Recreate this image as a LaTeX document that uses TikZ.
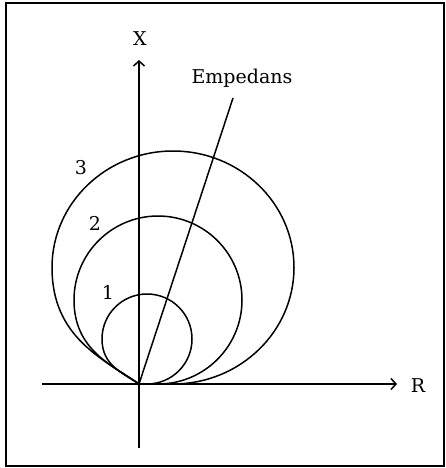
\documentclass[tikz,border=0pt]{standalone}
\usepackage{fontspec}
\setmainfont{DejaVu Serif}
\usetikzlibrary{arrows.meta}
\begin{document}
\begin{tikzpicture}[x=1pt,y=-1pt,
  axis/.style={line width=1.5pt,-{Straight Barb[length=5pt,width=11pt,line width=1.5pt]}},
  curve/.style={line width=1.5pt},
  lbl/.style={inner sep=0pt,font=\fontsize{19}{22}\selectfont}]
\useasboundingbox (0,0) rectangle (445,468);
\draw[line width=1.8pt] (6,3) rectangle (444,466);
% key points
\coordinate (O) at (139,384);
\coordinate (Rs) at (42,384);
\coordinate (Re) at (397,384);
\coordinate (Xs) at (139,448);
\coordinate (Xe) at (139,60);
\coordinate (E) at (233,98);
% axes
\draw[axis] (Rs) -- (Re);
\draw[axis] (Xs) -- (Xe);
\node[lbl] (rlab) at (418,386) {R};
\node[lbl] (xlab) at (140,39) {X};
% impedance line
\draw[curve] (O) -- (E);
\node[lbl] (elab) at (242,78) {Empedans};
% circle 3
\draw[curve] (O) -- (173,384)
  .. controls (239.8,384) and (294,331.8) .. (294,267.5)
  .. controls (294,203.2) and (239.8,151) .. (173,151)
  .. controls (106.2,151) and (52,203.2) .. (52,267.5)
  .. controls (52,337.5) and (103,358.8) .. (O);
% circle 2
\draw[curve] (O) -- (158,384)
  .. controls (204.4,384) and (242,346.4) .. (242,300)
  .. controls (242,253.6) and (204.4,216) .. (158,216)
  .. controls (111.6,216) and (74,253.6) .. (74,300)
  .. controls (74,350) and (112,365.1) .. (O);
% circle 1
\draw[curve] (O) -- (147,384)
  .. controls (171.9,384) and (192,363.9) .. (192,339)
  .. controls (192,314.1) and (171.9,294) .. (147,294)
  .. controls (122.1,294) and (102,314.1) .. (102,339)
  .. controls (102,366) and (123.4,373.1) .. (O);
\node[lbl] (l1) at (108,292) {1};
\node[lbl] (l2) at (95,223) {2};
\node[lbl] (l3) at (81,168) {3};
\end{tikzpicture}
\end{document}
